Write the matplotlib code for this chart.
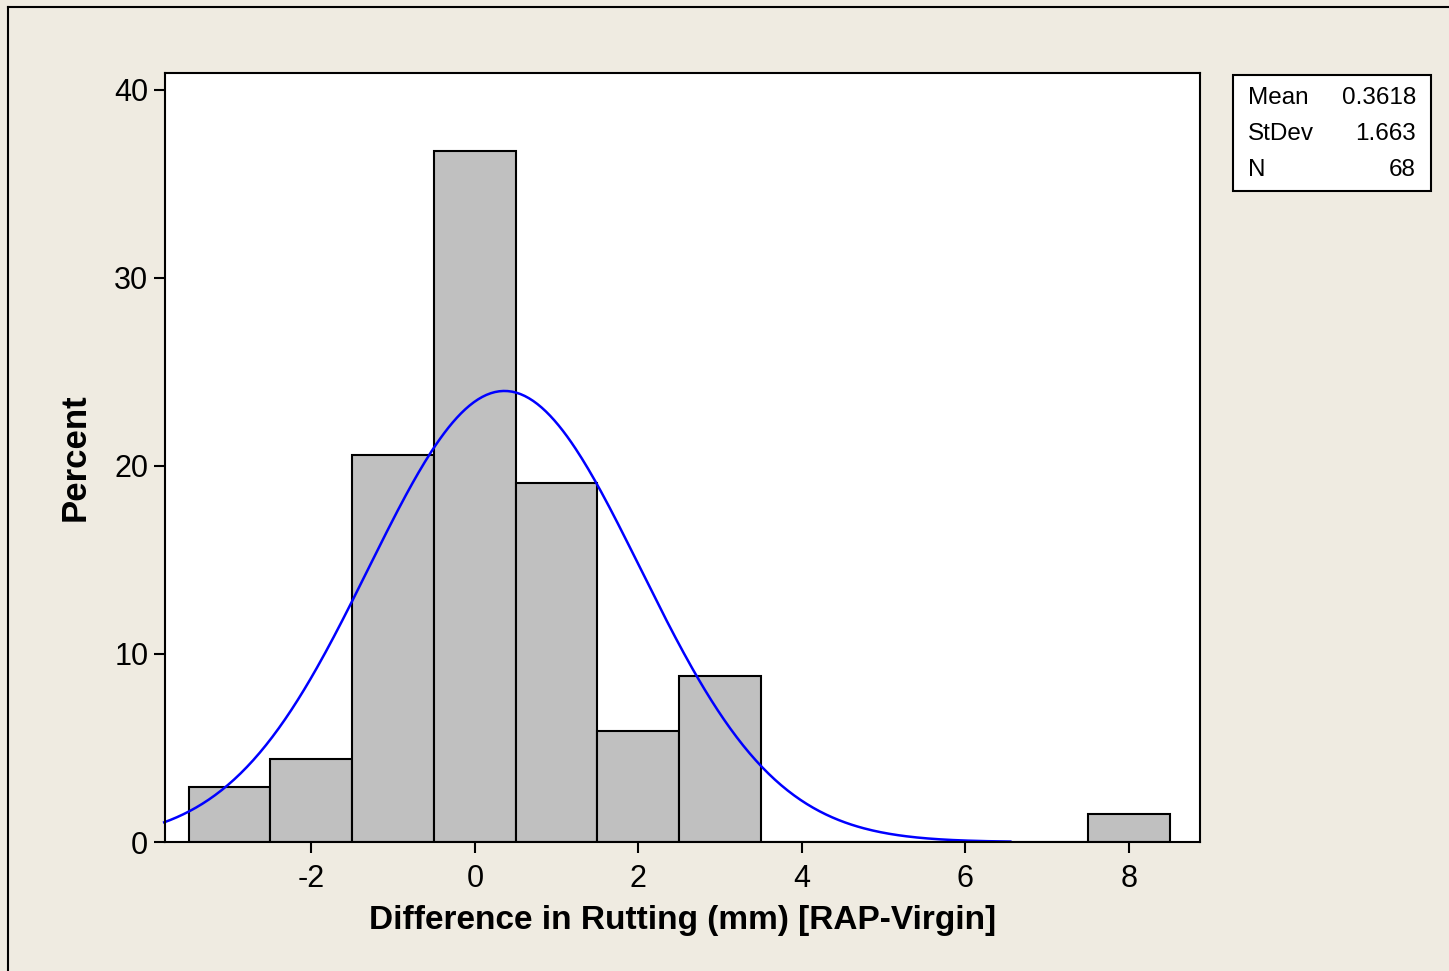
import matplotlib
matplotlib.use("Agg")
import matplotlib.pyplot as plt
from matplotlib.lines import Line2D
import numpy as np

plt.rcParams["font.family"] = ["Liberation Sans", "DejaVu Sans"]
plt.rcParams["axes.unicode_minus"] = False

# histogram data (bin width 1 mm)
bin_centers = [-3, -2, -1, 0, 1, 2, 3, 4, 5, 6, 7, 8]
counts = [2, 3, 14, 25, 13, 4, 6, 0, 0, 0, 0, 1]
n_total = 68
mean_val = 0.3618
stdev_val = 1.663
x_ticks = [-2, 0, 2, 4, 6, 8]
y_ticks = [0, 10, 20, 30, 40]

percents = np.array(counts) / n_total * 100

BG = "#efebe1"
fig = plt.figure(figsize=(14.49, 9.71), dpi=100, facecolor=BG)
ax = fig.add_axes([165 / 1449, 1 - 842 / 971, (1200 - 165) / 1449, (842 - 73) / 971])
ax.set_facecolor("white")

ax.bar(bin_centers, percents, width=1.0, color="#c0c0c0", edgecolor="black",
       linewidth=1.5, zorder=2)

# fitted normal curve, scaled to percent per bin
xs = np.linspace(-3.8, 6.55, 400)
ys = 100 * 1.0 / (stdev_val * np.sqrt(2 * np.pi)) * np.exp(-0.5 * ((xs - mean_val) / stdev_val) ** 2)
ax.plot(xs, ys, color="#0000ff", linewidth=1.8, zorder=3, clip_on=False)

ax.set_xlim(-3.79, 8.87)
ax.set_ylim(0, 40.9)
ax.set_xticks(x_ticks)
ax.set_yticks(y_ticks)
ax.tick_params(axis="x", direction="out", length=8, width=1.5, labelsize=22, pad=8)
ax.tick_params(axis="y", direction="out", length=8, width=1.5, labelsize=22, pad=4)
for s in ax.spines.values():
    s.set_linewidth(1.5)
    s.set_zorder(4)

ax.set_xlabel("Difference in Rutting (mm) [RAP-Virgin]", fontsize=24, fontweight="bold", labelpad=8)
ax.set_ylabel("Percent", fontsize=25, fontweight="bold", labelpad=16)

# stats box
bx0, bx1, by0, by1 = 1233 / 1449, 1431 / 1449, 1 - 191 / 971, 1 - 75 / 971
fig.add_artist(plt.Rectangle((bx0, by0), bx1 - bx0, by1 - by0, transform=fig.transFigure,
                             facecolor="white", edgecolor="black", linewidth=1.5))
rows = [("Mean", format(mean_val, ".4f")), ("StDev", format(stdev_val, ".3f")), ("N", str(n_total))]
for i, (lab, val) in enumerate(rows):
    yy = 1 - (98 + 36 * i) / 971
    fig.text(1248 / 1449, yy, lab, fontsize=17.5, va="center", ha="left")
    fig.text(1416 / 1449, yy, val, fontsize=17.5, va="center", ha="right")

# outer frame lines (left and top)
fig.add_artist(Line2D([8 / 1449, 8 / 1449], [0, 1 - 7 / 971], transform=fig.transFigure,
                      color="black", linewidth=1.5))
fig.add_artist(Line2D([8 / 1449, 1], [1 - 7 / 971, 1 - 7 / 971], transform=fig.transFigure,
                      color="black", linewidth=1.5))

fig.savefig("out.png", dpi=100, facecolor=BG)
